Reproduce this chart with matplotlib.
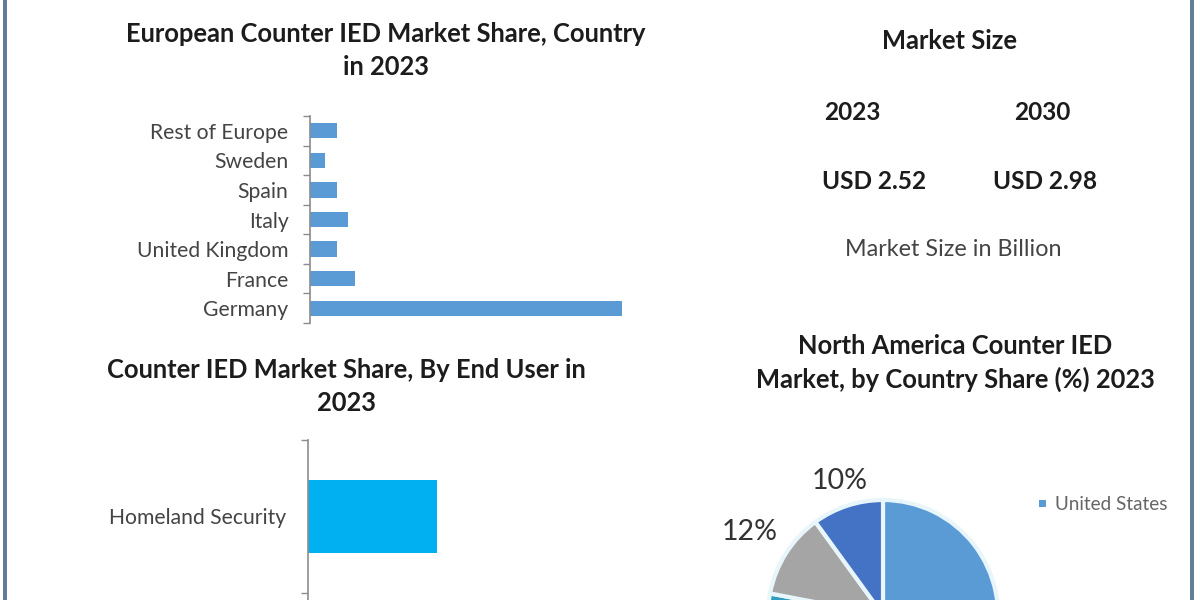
import matplotlib
matplotlib.use("Agg")
import matplotlib.pyplot as plt
from matplotlib.patches import Rectangle

plt.rcParams['font.family'] = ['Lato', 'DejaVu Sans']

W, H = 1200, 600
INK = '#1c1c1c'
GREY = '#444444'
AXIS = '#8c8c8c'

europe_countries = ['Germany', 'France', 'United Kingdom', 'Italy', 'Spain', 'Sweden', 'Rest of Europe']
europe_share = [62.4, 9.0, 5.4, 7.6, 5.4, 3.0, 5.4]
end_users = ['Homeland Security']
end_user_share = [25.6]
na_countries = ['United States', 'Canada', 'Mexico', 'Others']
na_share = [58, 20, 12, 10]
na_colors = ['#5B9BD5', '#2E9CC0', '#A5A5A5', '#4472C4']
na_labels = {2: '12%', 3: '10%'}

fig = plt.figure(figsize=(W / 100, H / 100), dpi=100, facecolor='white')


def box(left, top, right, bottom):
    return [left / W, 1 - bottom / H, (right - left) / W, (bottom - top) / H]


def put(x, y, s, size, weight='normal', color=INK, ha='center'):
    fig.text(x / W, 1 - y / H, s, fontsize=size, fontweight=weight, color=color, ha=ha, va='center')


def style_bar_axes(ax):
    for side in ('top', 'right', 'bottom'):
        ax.spines[side].set_visible(False)
    ax.spines['left'].set_color(AXIS)
    ax.spines['left'].set_linewidth(1.2)
    ax.xaxis.set_visible(False)
    ax.tick_params(axis='y', which='major', length=0, pad=15.5, labelsize=15.2, labelcolor=GREY)
    ax.tick_params(axis='y', which='minor', length=5, color=AXIS, width=1.0)
    ax.patch.set_alpha(0)


# Page border
for x0 in (3, 1190):
    fig.add_artist(Rectangle((x0 / W, 0), 3.5 / W, 1, transform=fig.transFigure,
                             facecolor='#5F7F99', edgecolor='none'))

# European bars
ax1 = fig.add_axes(box(310, 116, 622, 323))
pos1 = list(range(len(europe_countries)))
ax1.barh(pos1, europe_share, height=0.52, color='#5B9BD5')
ax1.set_xlim(0, max(europe_share))
ax1.set_ylim(-0.5, len(pos1) - 0.5)
ax1.set_yticks(pos1, europe_countries)
ax1.set_yticks([p - 0.5 for p in pos1] + [pos1[-1] + 0.5], minor=True)
style_bar_axes(ax1)

# End user bars: only the first category fits on the canvas
ax2 = fig.add_axes(box(308, 440, 437, 746))
ax2.barh([1.5], end_user_share, height=0.48, color='#00B0F0')
ax2.set_xlim(0, max(end_user_share))
ax2.set_ylim(0, 2)
ax2.set_yticks([1.5], end_users)
ax2.set_yticks([1, 2], minor=True)
style_bar_axes(ax2)

# North America pie: lower part runs off the canvas
ax3 = fig.add_axes(box(768, 500, 998, 730))
ax3.pie(na_share, colors=na_colors, startangle=90, counterclock=False,
        wedgeprops=dict(edgecolor='#E8F6FB', linewidth=3))
ax3.set_xlim(-1, 1)
ax3.set_ylim(-1, 1)
ax3.set_aspect('equal')

# Text
put(386, 34, 'European Counter IED Market Share, Country', 18.4, 'bold')
put(386, 67, 'in 2023', 18.4, 'bold')
put(346, 370, 'Counter IED Market Share, By End User in', 18.4, 'bold')
put(346, 403, '2023', 18.4, 'bold')
put(950, 41, 'Market Size', 18.4, 'bold')
put(852, 112, '2023', 17.6, 'bold')
put(1042, 112, '2030', 17.6, 'bold')
put(874, 181, 'USD 2.52', 17.6, 'bold')
put(1045, 181, 'USD 2.98', 17.6, 'bold')
put(953, 249, 'Market Size in Billion', 16.8, color=GREY)
put(955, 346, 'North America Counter IED', 18.4, 'bold')
put(955, 379, 'Market, by Country Share (%) 2023', 18.4, 'bold')
put(840, 481, na_labels[3], 20.5, color='#333333')
put(750, 532, na_labels[2], 20.5, color='#333333')

# Legend
fig.add_artist(Rectangle((1039 / W, 1 - 507 / H), 7 / W, 7 / H, transform=fig.transFigure,
                         facecolor='#5B9BD5', edgecolor='none'))
put(1055, 504, na_countries[0], 13.6, color='#666666', ha='left')

fig.savefig('out.png', dpi=100)
